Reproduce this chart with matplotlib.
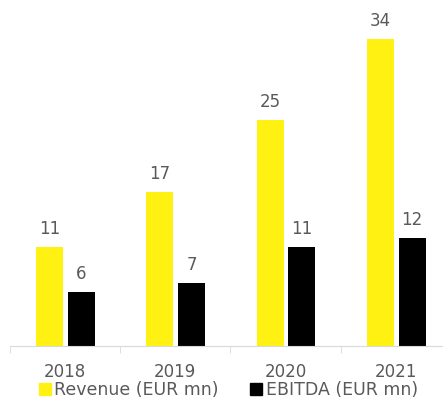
import numpy as np
import matplotlib.pyplot as plt
from matplotlib.patches import Patch

years = ["2018", "2019", "2020", "2021"]
revenue = [11, 17, 25, 34]
ebitda = [6, 7, 11, 12]

plt.rcParams['font.family'] = ['DejaVu Sans']
grey = "#595959"

fig = plt.figure(figsize=(4.43, 3.99), dpi=100)
ax = fig.add_axes([10/443, 1 - 346/399, 433/443, 346/399])

x = np.arange(len(years))
w = 0.245
b1 = ax.bar(x - 0.14, revenue, w, color="#FFF212", label="Revenue (EUR mn)")
b2 = ax.bar(x + 0.15, ebitda, w, color="#000000", label="EBITDA (EUR mn)")

for bars in (b1, b2):
    for r in bars:
        ax.text(r.get_x() + r.get_width() / 2, r.get_height() + 1.0, "%d" % r.get_height(),
                ha="center", va="bottom", color=grey, fontsize=12)

ax.set_yticks([])
for s in ["top", "right", "left"]:
    ax.spines[s].set_visible(False)
ax.spines["bottom"].set_color("#d9d9d9")

ax.set_xticks(x)
ax.set_xticklabels(years, color=grey, fontsize=12)
ax.tick_params(axis="x", length=0, pad=12)
ax.set_xticks(np.arange(len(years)) - 0.5, minor=True)
ax.tick_params(axis="x", which="minor", length=5, color="#d9d9d9")
ax.set_xlim(-0.5, 3.43)
ax.set_ylim(0, 38.3)

handles = [Patch(color="#FFF212"), Patch(color="#000000")]
fig.legend(handles, ["Revenue (EUR mn)", "EBITDA (EUR mn)"], loc="center",
           bbox_to_anchor=(0.515, 0.022), ncol=2, frameon=False, handlelength=0.7,
           handleheight=0.7, handletextpad=0.2, columnspacing=1.8,
           labelcolor=grey, fontsize=12.5, borderpad=0)

fig.savefig("out.png", dpi=100)
